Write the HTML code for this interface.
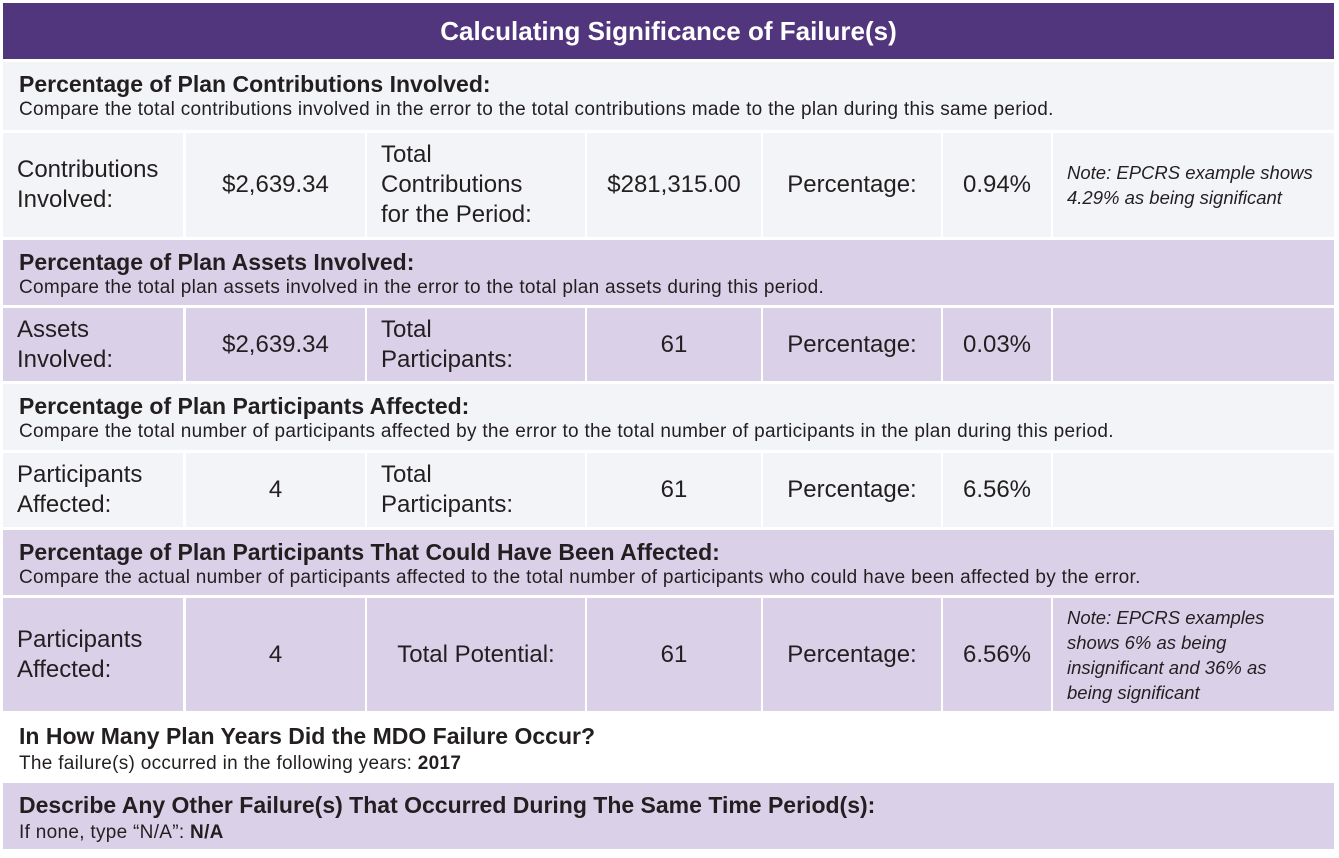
<!DOCTYPE html>
<html><head><meta charset="utf-8"><style>
body{margin:0;width:1339px;height:858px;background:#fff;position:relative;font-family:"Liberation Sans",sans-serif;color:#231f20;overflow:hidden}
div.b{position:absolute;box-sizing:border-box}
.g{background:#f3f4f7}.l{background:#dad1e9}
.sh{padding:9px 0 0 16px}
.sh b{display:block;font-size:23px;line-height:27px}
.sh span{display:block;font-size:19px;line-height:24px;letter-spacing:0.3px}
.c{display:flex;align-items:center;font-size:24px;line-height:30px;padding-left:14px}
.ctr{justify-content:center;padding-left:0;text-align:center}
.n{font-style:italic;font-size:18.5px;line-height:25px;padding-left:14px}
</style></head><body>
<div class="b" style="left:3px;top:3px;width:1331px;height:56px;background:#51357d;color:#fff;font-weight:bold;font-size:26px;display:flex;align-items:center;justify-content:center">Calculating Significance of Failure(s)</div>

<div class="b g sh" style="left:3px;top:62px;width:1331px;height:68px"><b>Percentage of Plan Contributions Involved:</b><span>Compare the total contributions involved in the error to the total contributions made to the plan during this same period.</span></div>
<div class="b g c" style="left:3px;top:133px;width:180px;height:104px">Contributions<br>Involved:</div>
<div class="b g c ctr" style="left:186px;top:133px;width:179px;height:104px">$2,639.34</div>
<div class="b g c" style="left:367px;top:133px;width:218px;height:104px">Total<br>Contributions<br>for the Period:</div>
<div class="b g c ctr" style="left:587px;top:133px;width:174px;height:104px">$281,315.00</div>
<div class="b g c ctr" style="left:763px;top:133px;width:178px;height:104px">Percentage:</div>
<div class="b g c ctr" style="left:943px;top:133px;width:108px;height:104px">0.94%</div>
<div class="b g c n" style="left:1053px;top:133px;width:281px;height:104px">Note: EPCRS example shows<br>4.29% as being significant</div>

<div class="b l sh" style="left:3px;top:240px;width:1331px;height:65px"><b>Percentage of Plan Assets Involved:</b><span>Compare the total plan assets involved in the error to the total plan assets during this period.</span></div>
<div class="b l c" style="left:3px;top:308px;width:180px;height:73px">Assets<br>Involved:</div>
<div class="b l c ctr" style="left:186px;top:308px;width:179px;height:73px">$2,639.34</div>
<div class="b l c" style="left:367px;top:308px;width:218px;height:73px">Total<br>Participants:</div>
<div class="b l c ctr" style="left:587px;top:308px;width:174px;height:73px">61</div>
<div class="b l c ctr" style="left:763px;top:308px;width:178px;height:73px">Percentage:</div>
<div class="b l c ctr" style="left:943px;top:308px;width:108px;height:73px">0.03%</div>
<div class="b l c" style="left:1053px;top:308px;width:281px;height:73px"></div>

<div class="b g sh" style="left:3px;top:384px;width:1331px;height:66px"><b>Percentage of Plan Participants Affected:</b><span>Compare the total number of participants affected by the error to the total number of participants in the plan during this period.</span></div>
<div class="b g c" style="left:3px;top:453px;width:180px;height:74px">Participants<br>Affected:</div>
<div class="b g c ctr" style="left:186px;top:453px;width:179px;height:74px">4</div>
<div class="b g c" style="left:367px;top:453px;width:218px;height:74px">Total<br>Participants:</div>
<div class="b g c ctr" style="left:587px;top:453px;width:174px;height:74px">61</div>
<div class="b g c ctr" style="left:763px;top:453px;width:178px;height:74px">Percentage:</div>
<div class="b g c ctr" style="left:943px;top:453px;width:108px;height:74px">6.56%</div>
<div class="b g c" style="left:1053px;top:453px;width:281px;height:74px"></div>

<div class="b l sh" style="left:3px;top:530px;width:1331px;height:65px"><b>Percentage of Plan Participants That Could Have Been Affected:</b><span>Compare the actual number of participants affected to the total number of participants who could have been affected by the error.</span></div>
<div class="b l c" style="left:3px;top:598px;width:180px;height:113px">Participants<br>Affected:</div>
<div class="b l c ctr" style="left:186px;top:598px;width:179px;height:113px">4</div>
<div class="b l c ctr" style="left:367px;top:598px;width:218px;height:113px">Total Potential:</div>
<div class="b l c ctr" style="left:587px;top:598px;width:174px;height:113px">61</div>
<div class="b l c ctr" style="left:763px;top:598px;width:178px;height:113px">Percentage:</div>
<div class="b l c ctr" style="left:943px;top:598px;width:108px;height:113px">6.56%</div>
<div class="b l c n" style="left:1053px;top:598px;width:281px;height:113px">Note: EPCRS examples<br>shows 6% as being<br>insignificant and 36% as<br>being significant</div>

<div class="b sh" style="left:3px;top:714px;width:1331px;height:66px;background:#fff"><b>In How Many Plan Years Did the MDO Failure Occur?</b><span>The failure(s) occurred in the following years: <b style="display:inline;font-size:19px">2017</b></span></div>
<div class="b l sh" style="left:3px;top:783px;width:1331px;height:66px"><b>Describe Any Other Failure(s) That Occurred During The Same Time Period(s):</b><span>If none, type “N/A”: <b style="display:inline;font-size:19px">N/A</b></span></div>
</body></html>
